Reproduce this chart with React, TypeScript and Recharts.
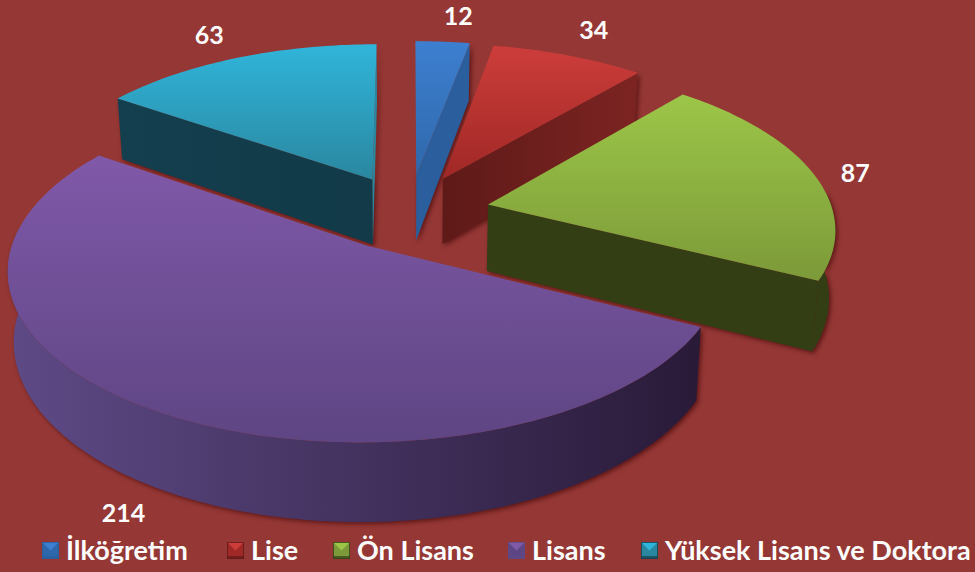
import { PieChart, Pie, Legend } from "recharts";

const categories = ["İlköğretim", "Lise", "Ön Lisans", "Lisans", "Yüksek Lisans ve Doktora"];
const values = [12, 34, 87, 214, 63];

const topLight = ["#3D7FD0", "#CC3D3A", "#9CC648", "#8059A9", "#30B5DA"];
const topDark = ["#2E68AA", "#A02826", "#7C9A39", "#5E4583", "#2A87A0"];
const wallLeft = ["#2A5E9C", "#5E1A18", "#333E15", "#5E4A86", "#143F4E"];
const wallRight = ["#2A5E9C", "#7C2422", "#333E15", "#291A38", "#123A48"];
const legendX = [42, 227, 333, 508, 641];
const labelReach = [1.2, 1.2, 1.1, 1.1, 1.2];
const labelDx = [11, 3, 10, -12, -3];
const labelDy = [-3, -5, 1, 3, -3];

const pieData = categories.map((name, i) => ({ name, value: values[i] }));

const BG = "#943735";
const SQUASH = 0.467;
const PERSPECTIVE = 0.1326;
const EXPLODE = 0.235;
const DEPTH = 67;

type SliceProps = {
  cx: number;
  cy: number;
  outerRadius: number;
  startAngle: number;
  endAngle: number;
  midAngle: number;
  index: number;
};

// disk coordinates -> screen, with a little perspective towards the viewer
function project(p: SliceProps, a: number, r: number, lower = false) {
  const mid = (p.midAngle * Math.PI) / 180;
  const rad = (a * Math.PI) / 180;
  const u = EXPLODE * Math.cos(mid) + r * Math.cos(rad);
  const v = -(EXPLODE * Math.sin(mid) + r * Math.sin(rad));
  const s = 1 / (1 - PERSPECTIVE * v);
  const x = p.cx + p.outerRadius * u * s;
  const y = p.cy + p.outerRadius * SQUASH * v * s;
  if (!lower) return { x, y };
  return { x: x - (x - p.cx) * 0.015, y: y + DEPTH * s };
}

function arcAngles(p: SliceProps) {
  const out: number[] = [];
  const n = Math.max(2, Math.ceil(Math.abs(p.endAngle - p.startAngle)));
  for (let i = 0; i <= n; i++) out.push(p.startAngle + ((p.endAngle - p.startAngle) * i) / n);
  return out;
}

const toPath = (pts: { x: number; y: number }[]) =>
  "M" + pts.map((q) => `${q.x.toFixed(1)},${q.y.toFixed(1)}`).join("L") + "Z";

const cosDeg = (a: number) => Math.cos((a * Math.PI) / 180);
const sinDeg = (a: number) => Math.sin((a * Math.PI) / 180);

function WallShape(props: any) {
  const p = props as SliceProps;
  // only the part of the rim that faces the viewer
  const front = arcAngles(p).filter((a) => sinDeg(a) < 0.1);
  const outer = [
    ...front.map((a) => project(p, a, 1)),
    ...[...front].reverse().map((a) => project(p, a, 1, true)),
  ];
  const side = (a: number) =>
    toPath([project(p, a, 0), project(p, a, 1), project(p, a, 1, true), project(p, a, 0, true)]);
  return (
    <g style={{ filter: "drop-shadow(2px 2px 2px rgba(70,10,10,0.7))" }}>
      {front.length > 1 && <path d={toPath(outer)} fill={`url(#wall${p.index})`} />}
      {cosDeg(p.startAngle) < -0.001 && <path d={side(p.startAngle)} fill={`url(#wall${p.index})`} />}
      {cosDeg(p.endAngle) > -0.001 && (
        <path d={side(p.endAngle)} fill={p.index === 4 ? topDark[4] : `url(#wall${p.index})`} />
      )}
    </g>
  );
}

function TopShape(props: any) {
  const p = props as SliceProps;
  const pts = [project(p, 0, 0), ...arcAngles(p).map((a) => project(p, a, 1))];
  return <path d={toPath(pts)} fill={`url(#top${p.index})`} />;
}

function renderLabel(props: any) {
  const p = props as SliceProps;
  const q = project(p, p.midAngle, labelReach[p.index], p.index === 3);
  return (
    <text
      x={q.x + labelDx[p.index]}
      y={q.y + labelDy[p.index]}
      textAnchor="middle"
      dominantBaseline="central"
      fill="#fff"
      fontFamily="Lato"
      fontWeight={700}
      fontSize={25}
    >
      {values[p.index]}
    </text>
  );
}

function LegendMark({ i }: { i: number }) {
  return (
    <svg width={17} height={17} style={{ position: "absolute", left: 0, top: 0 }}>
      <rect width={17} height={17} fill={topDark[i]} />
      <polygon points="0,0 17,0 8.5,8.5" fill={topLight[i]} />
      <rect x={0} y={14} width={17} height={3} fill={wallLeft[i]} opacity={0.7} />
      <rect x={0.5} y={0.5} width={16} height={16} fill="none" stroke={wallLeft[i]} strokeOpacity={0.8} />
    </svg>
  );
}

function renderLegend() {
  return (
    <div style={{ position: "relative", width: 975, height: 40 }}>
      {categories.map((name, i) => (
        <div key={name} style={{ position: "absolute", left: legendX[i], top: 0, height: 40 }}>
          <div style={{ position: "absolute", left: 0, top: 12 }}>
            <LegendMark i={i} />
          </div>
          <span
            style={{
              position: "absolute",
              left: 24,
              top: 3,
              whiteSpace: "nowrap",
              color: "#fff",
              fontFamily: "Lato",
              fontWeight: 700,
              fontSize: 27,
              lineHeight: "34px",
            }}
          >
            {name}
          </span>
        </div>
      ))}
    </div>
  );
}

export default function App() {
  return (
    <div style={{ position: "absolute", left: 0, top: 0, width: 975, height: 572, background: BG, overflow: "hidden" }}>
      <PieChart width={975} height={572} margin={{ top: 0, right: 0, bottom: 0, left: 0 }}>
        <defs>
          {categories.map((name, i) => (
            <linearGradient key={name} id={`top${i}`} x1="0" y1="0" x2="0" y2="1">
              <stop offset="0%" stopColor={topLight[i]} />
              <stop offset="100%" stopColor={topDark[i]} />
            </linearGradient>
          ))}
          {categories.map((name, i) => (
            <linearGradient key={name} id={`wall${i}`} x1="0" y1="0" x2="1" y2="0">
              <stop offset="0%" stopColor={wallLeft[i]} />
              <stop offset="100%" stopColor={wallRight[i]} />
            </linearGradient>
          ))}
        </defs>
        <Pie
          data={pieData}
          dataKey="value"
          nameKey="name"
          cx={409}
          cy={212}
          outerRadius={345}
          startAngle={90}
          endAngle={-270}
          stroke="none"
          isAnimationActive={false}
          shape={WallShape}
        />
        <Pie
          data={pieData}
          dataKey="value"
          nameKey="name"
          cx={409}
          cy={212}
          outerRadius={345}
          startAngle={90}
          endAngle={-270}
          stroke="none"
          isAnimationActive={false}
          shape={TopShape}
          label={renderLabel}
          labelLine={false}
        />
        <Legend content={renderLegend} wrapperStyle={{ left: 0, top: 530, width: 975 }} />
      </PieChart>
    </div>
  );
}
